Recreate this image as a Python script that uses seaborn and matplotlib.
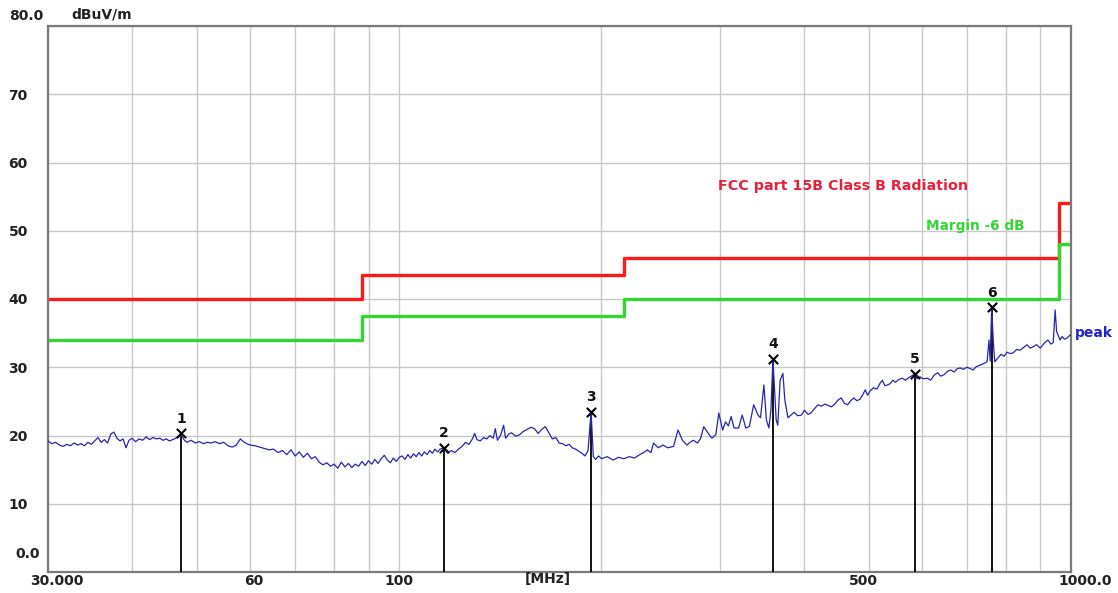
import numpy as np
import pandas as pd
import matplotlib
matplotlib.use("Agg")
import matplotlib.pyplot as plt
import seaborn as sns
from matplotlib.transforms import ScaledTranslation, blended_transform_factory

# ---------------- data ----------------
trace_freq = [
    30.0, 30.4, 30.8, 31.2, 31.6, 32.0, 32.4, 32.8, 33.2, 33.6, 34.0, 34.4, 34.8, 35.2, 35.6,
    36.0, 36.4, 36.8, 37.2, 37.6, 38.0, 38.4, 38.8, 39.2, 39.6, 40.0, 40.5, 41.0, 41.5, 42.0,
    42.5, 43.0, 43.5, 44.0, 44.5, 45.0, 45.5, 46.0, 46.5, 47.3, 47.8, 48.3, 49.0, 49.7, 50.4,
    51.1, 51.8, 52.5, 53.2, 54.0, 54.8, 55.6, 56.4, 57.2, 58.0, 58.6, 59.3, 60.0, 61.0, 62.0,
    63.0, 64.0, 65.0, 66.0, 67.0, 68.0, 69.0, 70.0, 71.0, 72.0, 73.0, 74.0, 75.0, 76.0, 77.0,
    78.0, 79.0, 80.0, 81.0, 82.0, 83.0, 84.0, 85.0, 86.0, 87.0, 88.0, 89.0, 90.0, 91.0, 92.0,
    93.0, 94.0, 95.0, 96.0, 97.0, 98.0, 99.0, 100.0, 101.0, 102.0, 103.0, 104.0, 105.0, 106.0,
    107.0, 108.0, 109.0, 110.0, 111.0, 112.0, 113.0, 114.0, 115.0, 116.5, 118.0, 119.5, 121.0,
    122.5, 124.0, 125.5, 127.0, 128.5, 129.5, 130.5, 132.0, 133.5, 135.0, 136.5, 138.0, 139.0,
    140.0, 141.5, 143.0, 144.0, 145.5, 147.0, 149.0, 151.0, 153.0, 155.0, 157.0, 159.0, 161.0,
    163.0, 165.0, 167.0, 169.0, 171.0, 173.0, 175.0, 177.0, 179.0, 181.0, 183.0, 185.0, 187.0,
    189.0, 191.0, 193.0, 194.5, 196.0, 198.0, 200.0, 204.0, 208.0, 212.0, 216.0, 220.0, 224.0,
    228.0, 232.0, 234.0, 237.0, 239.0, 243.0, 247.0, 251.0, 256.0, 260.0, 264.0, 268.0, 271.0,
    274.0, 278.0, 281.0, 284.0, 288.0, 292.0, 296.0, 299.0, 303.0, 306.0, 309.0, 312.0, 315.0,
    320.0, 324.0, 328.0, 332.0, 337.0, 342.0, 345.0, 349.0, 352.0, 355.0, 357.5, 360.0, 364.0,
    366.0, 369.0, 372.5, 375.0, 379.0, 383.0, 387.0, 392.0, 397.0, 401.0, 406.0, 410.0, 415.0,
    420.0, 425.0, 430.0, 435.0, 440.0, 445.0, 450.0, 455.0, 460.0, 465.0, 470.0, 475.0, 480.0,
    485.0, 490.0, 494.0, 498.0, 502.0, 508.0, 514.0, 520.0, 524.0, 528.0, 533.0, 538.0, 543.0,
    548.0, 554.0, 561.0, 567.0, 574.0, 585.0, 590.0, 596.0, 603.0, 611.0, 618.0, 625.0, 633.0,
    640.0, 647.0, 655.0, 662.0, 670.0, 677.0, 684.0, 692.0, 700.0, 708.0, 715.0, 723.0, 732.0,
    740.0, 750.0, 755.0, 758.0, 762.0, 766.0, 770.0, 779.0, 787.0, 795.0, 803.0, 812.0, 820.0,
    830.0, 840.0, 850.0, 860.0, 869.0, 878.0, 889.0, 900.0, 912.0, 924.0, 933.0, 941.0, 947.0,
    952.0, 957.0, 963.0, 970.0, 978.0, 987.0, 994.0, 1000.0,
]
trace_level = [
    19.2, 18.8, 19.0, 18.6, 18.4, 18.7, 18.5, 18.9, 18.6, 18.8, 18.5, 19.0, 18.7, 19.2, 19.7,
    19.0, 19.4, 18.9, 20.2, 20.5, 19.6, 19.2, 19.5, 18.2, 19.3, 19.6, 19.1, 19.5, 19.3, 19.8,
    19.4, 19.7, 19.5, 19.6, 19.3, 19.5, 19.2, 19.4, 19.6, 20.3, 19.4, 19.0, 19.3, 18.9, 19.1,
    18.8, 19.0, 18.9, 19.1, 18.8, 19.0, 18.5, 18.3, 18.6, 19.5, 19.1, 18.8, 18.6, 18.5, 18.3,
    18.1, 17.9, 18.0, 17.5, 17.8, 17.2, 17.9, 17.0, 17.6, 16.8, 17.4, 16.6, 16.9, 16.1, 15.7,
    16.0, 15.5, 15.8, 15.2, 16.1, 15.4, 15.9, 15.3, 15.8, 15.5, 16.2, 15.6, 16.3, 15.8, 16.5,
    15.9, 16.6, 17.1, 16.4, 16.0, 16.7, 16.2, 16.8, 17.0, 16.5, 17.2, 16.7, 17.3, 16.9,
    17.5, 17.0, 17.6, 17.2, 17.8, 17.4, 18.0, 17.6, 18.0, 18.2, 17.4, 17.8, 17.5,
    18.0, 18.4, 19.0, 18.7, 19.5, 20.3, 19.4, 19.2, 19.7, 19.5, 20.0, 19.6, 21.0,
    19.3, 20.0, 21.5, 19.6, 20.2, 20.4, 19.9, 20.1, 20.6, 20.9, 21.2, 21.0, 20.3,
    20.9, 21.3, 20.4, 19.5, 19.7, 18.9, 18.8, 18.5, 18.7, 18.2, 18.0, 17.7, 17.4,
    17.0, 17.8, 23.5, 16.9, 16.5, 17.0, 16.6, 16.9, 16.4, 16.8, 16.6, 16.9, 16.7,
    17.2, 17.6, 17.9, 17.5, 18.9, 18.2, 18.6, 18.2, 18.4, 20.8, 19.3, 18.6, 19.0,
    19.3, 18.9, 19.6, 21.3, 20.4, 19.6, 20.1, 23.3, 20.8, 22.0, 21.4, 22.8, 21.1,
    21.1, 23.0, 21.1, 21.3, 24.5, 23.0, 22.6, 27.4, 22.3, 21.1, 23.7, 31.2, 22.3,
    21.5, 28.1, 29.1, 25.2, 22.6, 23.0, 23.4, 22.9, 23.0, 23.7, 23.1, 23.3, 23.9,
    24.5, 24.3, 24.6, 24.4, 24.2, 24.6, 25.2, 25.5, 24.7, 24.5, 25.1, 25.5, 25.1,
    25.3, 26.0, 26.7, 25.9, 26.5, 27.0, 26.8, 27.7, 28.1, 27.3, 27.4, 27.6, 28.1,
    27.8, 28.2, 28.4, 28.1, 28.5, 29.0, 28.3, 28.6, 28.3, 28.4, 28.1, 28.8, 29.2,
    28.7, 28.9, 29.4, 29.6, 29.3, 29.8, 29.9, 29.7, 30.0, 29.8, 29.6, 30.1, 30.3,
    30.5, 30.8, 34.0, 30.9, 38.8, 34.0, 30.8, 31.4, 31.9, 31.6, 32.2, 32.0, 32.1,
    32.6, 32.5, 32.9, 33.3, 32.8, 33.0, 33.3, 32.8, 33.5, 34.0, 33.4, 33.6, 38.4,
    35.2, 34.7, 34.0, 34.5, 34.1, 34.3, 34.6, 34.8,
]

limit_freq = [30, 88, 88, 216, 216, 960, 960, 1000]
limit_level = [40, 40, 43.5, 43.5, 46, 46, 54, 54]
margin_level = [34, 34, 37.5, 37.5, 40, 40, 48, 48]

marker_freq = [47.3, 116.5, 193.0, 360.0, 585.0, 762.0]
marker_level = [20.3, 18.2, 23.5, 31.2, 29.0, 38.8]
marker_names = ["1", "2", "3", "4", "5", "6"]

x_ticks = [30, 60, 100, 500, 1000]
x_tick_labels = ["30.000", "60", "100", "500", "1000.0"]
x_grid = [40, 50, 70, 80, 90, 200, 300, 400, 600, 700, 800, 900]
y_ticks = [0, 10, 20, 30, 40, 50, 60, 70, 80]
y_tick_labels = ["0.0", "10", "20", "30", "40", "50", "60", "70", "80.0"]

# ---------------- plot ----------------
sns.set_style("white")
plt.rcParams["font.family"] = ["DejaVu Sans"]

W, H = 1118, 593
fig = plt.figure(figsize=(W / 100, H / 100), dpi=100)
ax = fig.add_axes([48 / W, 1 - 572 / H, (1071 - 48) / W, (572 - 26) / H])
ax.set_xscale("log")

trace_df = pd.DataFrame({"freq": trace_freq, "level": trace_level})
limit_df = pd.DataFrame({"freq": limit_freq, "limit": limit_level, "margin": margin_level})

sns.lineplot(data=limit_df, x="freq", y="limit", ax=ax, color="#ff1a1a", lw=2.4,
             estimator=None, sort=False)
sns.lineplot(data=limit_df, x="freq", y="margin", ax=ax, color="#33d633", lw=2.4,
             estimator=None, sort=False)
ax.vlines(marker_freq, 0, marker_level, color="black", lw=1.3, zorder=3)
sns.lineplot(data=trace_df, x="freq", y="level", ax=ax, color="#2626b0", lw=0.9,
             estimator=None, sort=False, zorder=4)
sns.scatterplot(x=marker_freq, y=marker_level, ax=ax, marker="x", s=45,
                color="black", linewidth=1.5, zorder=5)
for f, lv, name in zip(marker_freq, marker_level, marker_names):
    ax.annotate(name, (f, lv), xytext=(0, 10.5), textcoords="offset points",
                ha="center", va="center", fontsize=10, fontweight="bold",
                color="#111111", zorder=6)

ax.set_xlim(30, 1000)
ax.set_ylim(0, 80)
ax.set_xlabel("")
ax.set_ylabel("")

# grid
ax.set_xticks(x_ticks)
ax.set_xticks(x_grid, minor=True)
ax.set_yticks(y_ticks)
ax.grid(which="both", axis="x", color="#c8c8c8", lw=1.0, zorder=0)
ax.grid(which="major", axis="y", color="#c8c8c8", lw=1.0, zorder=0)
ax.set_axisbelow(True)

ax.set_xticklabels(x_tick_labels, fontsize=10, fontweight="bold", color="#222222")
ax.set_yticklabels(y_tick_labels, fontsize=10, fontweight="bold", color="#222222",
                   ha="center")
ax.tick_params(axis="both", which="both", length=0)
ax.tick_params(axis="x", pad=1.5)
ax.tick_params(axis="y", pad=21.5)

def shift(lbl, dx_px, dy_px):
    lbl.set_transform(lbl.get_transform() + ScaledTranslation(dx_px / 100, dy_px / 100,
                                                              fig.dpi_scale_trans))

xl = ax.get_xticklabels()
shift(xl[0], 9, 0)
shift(xl[1], 4, 0)
shift(xl[3], -5, 0)
shift(xl[-1], 14, 0)
yl = ax.get_yticklabels()
shift(yl[0], 9, 20)
shift(yl[-1], 8.5, 12)

for s in ax.spines.values():
    s.set_color("#7a7a7a")
    s.set_linewidth(1.6)

# texts
ax.text(-0.005 + (107 - 48) / 1023, 1.0 + 12 / 546, "dBuV/m", transform=ax.transAxes,
        ha="center", va="center", fontsize=10, fontweight="bold", color="#222222")
ax.text((548 - 48) / 1023, -7 / 546, "[MHz]", transform=ax.transAxes,
        ha="center", va="center", fontsize=10, fontweight="bold", color="#222222")
ax.text(298, 56.6, "FCC part 15B Class B Radiation", ha="left", va="center",
        fontsize=10.3, fontweight="bold", color="#e8203a")
ax.text(608, 50.7, "Margin -6 dB", ha="left", va="center",
        fontsize=9.8, fontweight="bold", color="#33d633")
tr = blended_transform_factory(ax.transAxes, ax.transData)
ax.text(1.004, 35.0, "peak", transform=tr, ha="left", va="center",
        fontsize=10, fontweight="bold", color="#2222cc", clip_on=False)

fig.savefig("out.png", dpi=100, facecolor="white")
